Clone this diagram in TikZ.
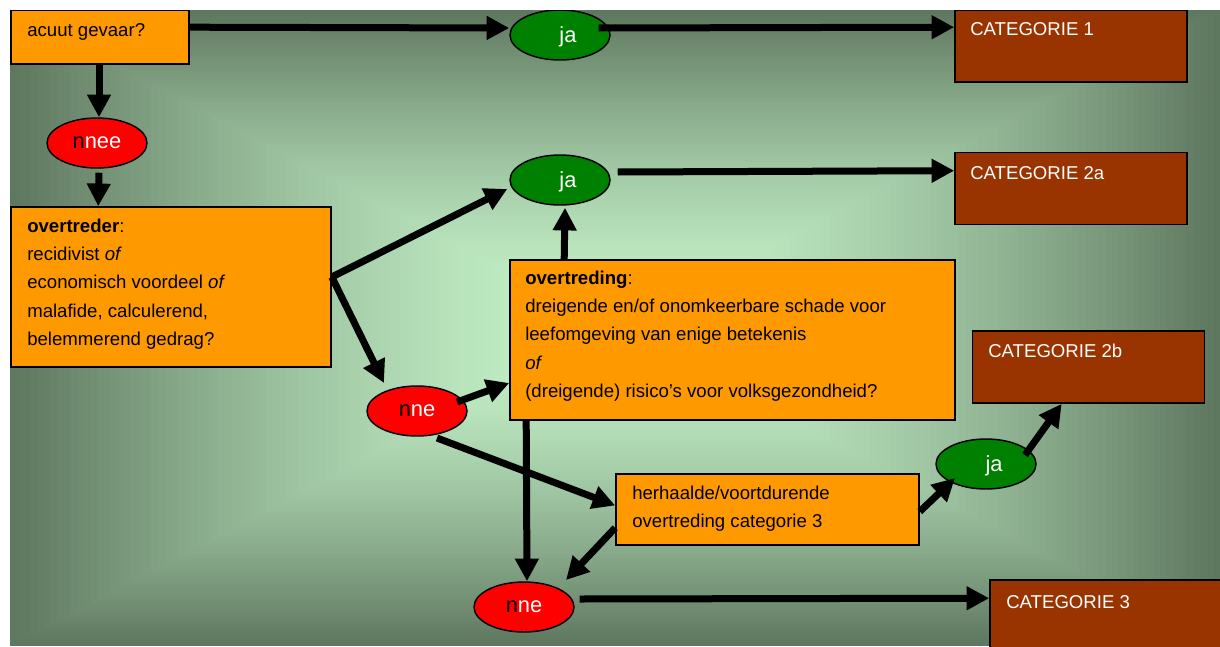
\documentclass[tikz,border=0pt]{standalone}
\usepackage{fontspec}
\setmainfont{Liberation Sans}
\usetikzlibrary{shapes.geometric,arrows.meta,calc}

\definecolor{boxorange}{HTML}{FF9900}
\definecolor{catbrown}{HTML}{993300}
\definecolor{yesgreen}{HTML}{008000}
\definecolor{nored}{HTML}{FF0000}
\definecolor{glowin}{RGB}{198,244,202}
\definecolor{glowout}{RGB}{94,119,95}

\tikzset{
  txt/.style={font=\fontsize{13.95pt}{21.3pt}\selectfont, inner sep=0pt, align=left, anchor=base west},
  qbox/.style={draw=black, line width=1.2pt, fill=boxorange, inner sep=0pt},
  catbox/.style={draw=black, line width=1.2pt, fill=catbrown, inner sep=0pt,
                 minimum width=174pt, minimum height=54pt},
  cattxt/.style={txt, text=white},
  oval/.style={ellipse, draw=black, line width=1.1pt, inner sep=0pt,
               minimum width=75pt, minimum height=37.5pt, text=white,
               font=\fontsize{16.4pt}{18pt}\selectfont, text depth=-2pt},
  yes/.style={oval, fill=yesgreen},
  no/.style={oval, fill=nored},
  arr/.style={line width=5.25pt, draw=black, -{Triangle[length=17pt,width=17pt]}}
}

\begin{document}
\begin{tikzpicture}[x=0.75pt,y=-0.75pt]
\useasboundingbox (0,0) rectangle (1220,646);
\fill[white] (0,0) rectangle (1220,646);

\begin{scope}
\clip (10,10) rectangle (1220,646);

% rectangular "from centre" glow: nested rectangles, dark at the rim, light in the middle
\foreach \k in {0,...,90}{
  \pgfmathsetmacro{\t}{1-\k/90}
  \pgfmathsetmacro{\p}{100*(\t^1.5)}
  \fill[glowout!\p!glowin] ({615-605*\t},{328-318*\t}) rectangle ({615+605*\t},{328+318*\t});
}

% boxes (multi-line texts are placed by the baseline of their last line)
\node[qbox, minimum width=133.5pt, minimum height=40.5pt] (acuut) at (100,37) {};
\node[txt] (acuutT) at (27,36.5) {acuut gevaar?};

\node[qbox, minimum width=240pt, minimum height=120pt] (dader) at (171,287) {};
\node[txt] (daderT) at (27,345.6) {\textbf{overtreder}:\\recidivist \textit{of}\\economisch voordeel \textit{of}\\malafide, calculerend,\\belemmerend gedrag?};

\node[qbox, minimum width=333.75pt, minimum height=120pt] (feit) at (732.5,340) {};
\node[txt] (feitT) at (525,397.6) {\textbf{overtreding}:\\dreigende en/of onomkeerbare schade voor\\leefomgeving van enige betekenis\\\textit{of}\\(dreigende) risico’s voor volksgezondheid?};

\node[qbox, minimum width=227.25pt, minimum height=53.25pt] (herh) at (767.5,509.5) {};
\node[txt] (herhT) at (632,527.4) {herhaalde/voortdurende\\overtreding categorie 3};

% categories
\node[catbox] (cat1) at (1071,46) {};
\node[cattxt] (cat1T) at (970,36) {CATEGORIE 1};
\node[catbox] (cat2a) at (1071,188.5) {};
\node[cattxt] (cat2aT) at (970,179) {CATEGORIE 2a};
\node[catbox] (cat2b) at (1088.5,367) {};
\node[cattxt] (cat2bT) at (988,357) {CATEGORIE 2b};
\node[catbox] (cat3) at (1106,616) {};
\node[cattxt] (cat3T) at (1006,608) {CATEGORIE 3};

% answers
\node[yes] (ja1) at (560,35) {\hspace{12pt}ja};
\node[yes] (ja2) at (560,180) {\hspace{12pt}ja};
\node[yes] (ja3) at (986,464) {\hspace{12pt}ja};
\node[no] (nee1) at (97,143) {{\color{black}n}nee};
\node[no] (nee2) at (417,411) {{\color{black}n}ne\hspace{9pt}};
\node[no] (nee3) at (524,607) {{\color{black}n}ne\hspace{9pt}};

% connectors
\draw[arr] ($(acuut.north east)+(0,18)$) -- ($(ja1.west)+(0,-7)$);
\draw[arr] ($(ja1.east)+(-12,-7)$) -- ($(cat1.north west)+(0,18)$);
\draw[arr] ($(acuut.south)+(-1,0)$) -- ($(nee1.north)+(2,0)$);
\draw[arr] ($(nee1.south)+(2,4)$) -- ($(dader.north west)+(88,0)$);
\draw[arr] ($(dader.east)+(0,-10)$) -- ($(ja2.west)+(-2,9)$);
\draw[arr] ($(dader.east)+(0,-10)$) -- ($(nee2.center)+(-33,-28)$);
\draw[arr] ($(ja2.east)+(7,-8)$) -- ($(cat2a.north west)+(0,19)$);
\draw[arr] ($(feit.north west)+(55,0)$) -- ($(ja2.south)+(5,2)$);
\draw[arr] ($(nee2.center)+(40,-9)$) -- ($(feit.west)+(0,43)$);
\draw[arr] ($(nee2.center)+(20,27)$) -- ($(herh.west)+(0,-4)$);
\draw[arr] ($(feit.south west)+(17,0)$) -- ($(nee3.north)+(3,0)$);
\draw[arr] ($(herh.south west)+(0,-18)$) -- ($(nee3.center)+(42,-27)$);
\draw[arr] ($(herh.east)+(0,2)$) -- ($(ja3.center)+(-31,14)$);
\draw[arr] ($(ja3.center)+(39,-9)$) -- ($(cat2b.south west)+(90,0)$);
\draw[arr] ($(nee3.east)+(5,-8)$) -- ($(cat3.north west)+(0,19)$);
\end{scope}
\end{tikzpicture}
\end{document}
